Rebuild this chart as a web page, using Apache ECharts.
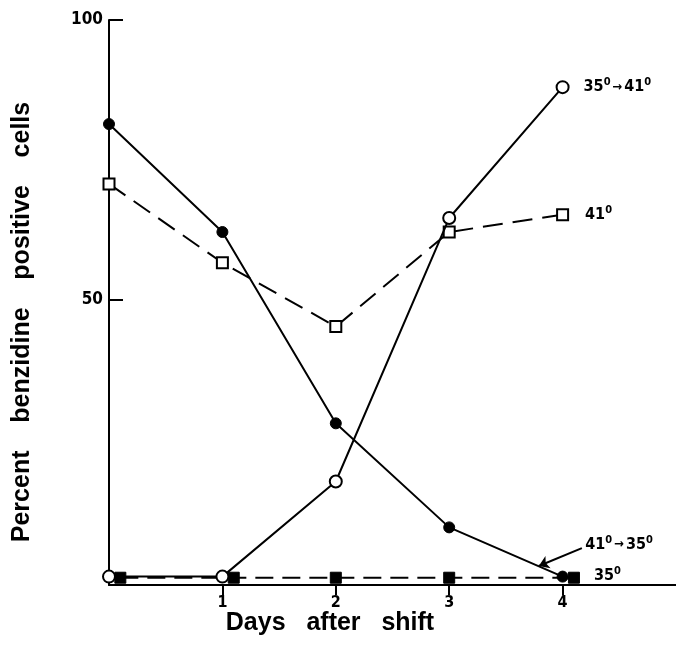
<!DOCTYPE html>
<html><head><meta charset="utf-8">
<script src="https://cdn.jsdelivr.net/npm/echarts@6/dist/echarts.min.js"></script>
<style>html,body{margin:0;padding:0;background:#fff}#c{width:676px;height:646px}</style>
</head><body><div id="c"></div>
<script>
const days = [0, 1, 2, 3, 4];
const days35 = [0.1, 1.1, 2, 3, 4.1];
const shift41to35 = [81.4, 62.1, 27.9, 9.3, 0.5];
const const41 = [70.7, 56.6, 45.2, 62.1, 65.2];
const shift35to41 = [0.5, 0.5, 17.5, 64.6, 88.0];
const const35 = [0.3, 0.3, 0.3, 0.3, 0.3];
const xTicks = [1, 2, 3, 4];
const yTicks = [50, 100];
const xTitle = 'Days   after   shift';
const yTitle = 'Percent    benzidine    positive    cells';

const F = "'Liberation Sans Narrow','DejaVu Sans Condensed',Arial,sans-serif";
const TF = "'Liberation Sans',Arial,sans-serif";
const rich = {
  n: {fontSize: 16, fontWeight: 'bold', fontFamily: F, color: '#000'},
  s: {fontSize: 11, fontWeight: 'bold', fontFamily: F, color: '#000', padding: [0, 0, 9, 0]},
  a: {fontSize: 13, fontWeight: 'bold', fontFamily: F, color: '#000', padding: [0, 2, 0, 2]}
};
const pair = (xs, ys) => xs.map((x, i) => [x, ys[i]]);
function endLbl(data, fmt, dx, dy) {
  return data.map((d, i) => i === data.length - 1
    ? {value: d, label: {show: true, position: 'right', distance: dx, offset: [0, dy], formatter: fmt, rich}}
    : d);
}

const chart = echarts.init(document.getElementById('c'));
chart.setOption({
  animation: false,
  grid: {left: 109, right: 0, top: 20, bottom: 61},
  graphic: [
    {type: 'text', x: 330, y: 623, style: {text: xTitle, x: 0, y: 0, align: 'center', verticalAlign: 'middle',
      fontSize: 25, fontWeight: 'bold', fontFamily: TF, fill: '#000'}},
    {type: 'text', x: 22, y: 322, rotation: Math.PI / 2, style: {text: yTitle, x: 0, y: 0, align: 'center', verticalAlign: 'middle',
      fontSize: 25, fontWeight: 'bold', fontFamily: TF, fill: '#000'}}
  ],
  xAxis: {
    type: 'value', min: 0, max: 5,
    axisLine: {show: true, onZero: false, lineStyle: {color: '#000', width: 2}},
    axisTick: {show: true, inside: false, length: 10, lineStyle: {color: '#000', width: 2}, customValues: xTicks},
    axisLabel: {show: true, customValues: xTicks, color: '#000', fontSize: 16, fontWeight: 'bold', fontFamily: F, margin: 10},
    splitLine: {show: false}
  },
  yAxis: {
    type: 'value', min: -1, max: 100,
    axisLine: {show: true, lineStyle: {color: '#000', width: 2}},
    axisTick: {show: true, inside: true, length: 14, lineStyle: {color: '#000', width: 2}, customValues: yTicks},
    axisLabel: {show: true, customValues: yTicks, color: '#000', fontSize: 17, fontWeight: 'bold', fontFamily: F, margin: 6},
    splitLine: {show: false}
  },
  series: [
    {
      name: '41-35', type: 'line', data: pair(days, shift41to35),
      symbol: 'circle', symbolSize: 11, showAllSymbol: true,
      lineStyle: {color: '#000', width: 2, type: 'solid'},
      itemStyle: {color: '#000', borderColor: '#000', borderWidth: 1},
      markLine: {
        silent: true, symbol: ['none', 'arrow'], symbolSize: 10,
        lineStyle: {color: '#000', width: 2, type: 'solid'},
        label: {show: false},
        data: [[{coord: [4.17, 5.6]}, {coord: [3.79, 2.4]}]]
      },
      markPoint: {
        symbol: 'circle', symbolSize: 0, silent: true,
        label: {show: true, position: 'right', distance: 0, formatter: '{n|41}{s|0}{a|→}{n|35}{s|0}', rich},
        data: [{coord: [4.2, 6.2]}]
      },
      z: 3
    },
    {
      name: '41', type: 'line', data: endLbl(pair(days, const41), '{n|41}{s|0}', 16, 0),
      symbol: 'rect', symbolSize: 11, showAllSymbol: true,
      lineStyle: {color: '#000', width: 2, type: [20, 10]},
      itemStyle: {color: '#fff', borderColor: '#000', borderWidth: 2},
      z: 3
    },
    {
      name: '35-41', type: 'line', data: endLbl(pair(days, shift35to41), '{n|35}{s|0}{a|→}{n|41}{s|0}', 14, 0),
      symbol: 'circle', symbolSize: 12, showAllSymbol: true,
      lineStyle: {color: '#000', width: 2, type: 'solid'},
      itemStyle: {color: '#fff', borderColor: '#000', borderWidth: 2},
      z: 4
    },
    {
      name: '35', type: 'line', data: endLbl(pair(days35, const35), '{n|35}{s|0}', 14, -2),
      symbol: 'rect', symbolSize: 11, showAllSymbol: true,
      lineStyle: {color: '#000', width: 2, type: [18, 9]},
      itemStyle: {color: '#000', borderColor: '#000', borderWidth: 1},
      z: 3
    }
  ]
});
</script></body></html>
